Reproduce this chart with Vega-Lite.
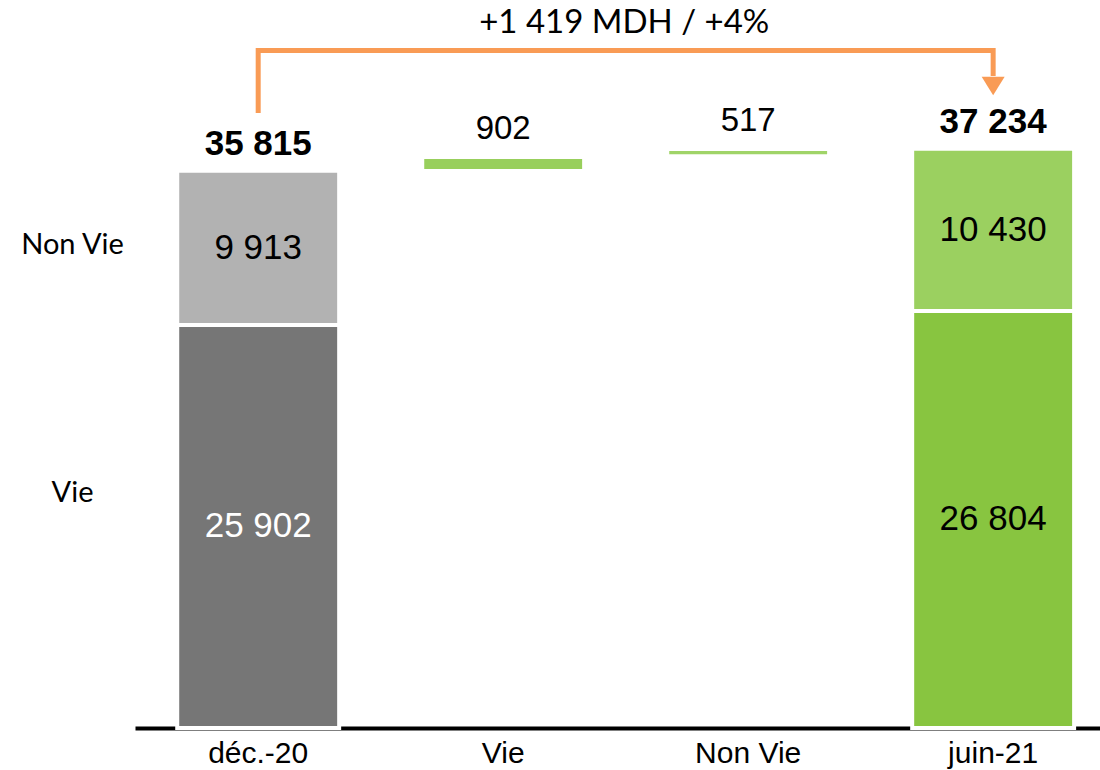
{
  "$schema": "https://vega.github.io/schema/vega-lite/v6.json",
  "autosize": "none",
  "width": 965,
  "height": 688,
  "padding": {"left": 135, "right": 0, "top": 40, "bottom": 42},
  "background": "white",
  "config": {
    "view": {"stroke": null},
    "locale": {"number": {"decimal": ",", "thousands": " ", "grouping": [3], "currency": ["", ""]}}
  },
  "datasets": {
    "stack": [
      {"cat": "déc.-20", "seg": "Vie", "start": 0, "end": 25902, "value": 25902},
      {"cat": "déc.-20", "seg": "Non Vie", "start": 25902, "end": 35815, "value": 9913},
      {"cat": "juin-21", "seg": "Vie", "start": 0, "end": 26804, "value": 26804},
      {"cat": "juin-21", "seg": "Non Vie", "start": 26804, "end": 37234, "value": 10430}
    ],
    "totals": [
      {"cat": "déc.-20", "total": 35815},
      {"cat": "juin-21", "total": 37234}
    ],
    "floats": [
      {"cat": "Vie", "start": 35930, "end": 36570, "value": 902},
      {"cat": "Non Vie", "start": 36870, "end": 37080, "value": 517}
    ],
    "arrow": [
      {"cat": "déc.-20", "y": 39524, "o": 1},
      {"cat": "déc.-20", "y": 43540, "o": 2},
      {"cat": "juin-21", "y": 43540, "o": 3},
      {"cat": "juin-21", "y": 41900, "o": 4}
    ],
    "head": [
      {"cat": "juin-21", "y": 41260}
    ],
    "note": [
      {"text": "+1 419 MDH / +4%", "pos": 0.507, "y": 44666}
    ]
  },
  "resolve": {"scale": {"x": "independent"}},
  "layer": [
    {
      "encoding": {
        "x": {
          "field": "cat",
          "type": "nominal",
          "sort": ["déc.-20", "Vie", "Non Vie", "juin-21"],
          "scale": {"domain": ["déc.-20", "Vie", "Non Vie", "juin-21"], "paddingInner": 0.339, "paddingOuter": 0.139, "align": 0.62},
          "axis": {
            "title": null,
            "labelAngle": 0,
            "labelFont": "Liberation Sans",
            "labelFontSize": 30,
            "labelColor": "#000000",
            "labelPadding": 10,
            "domainColor": "#000000",
            "domainWidth": 4,
            "ticks": false,
            "grid": false
          }
        }
      },
      "layer": [
        {
          "data": {"name": "stack"},
          "mark": {"type": "bar", "stroke": "white", "strokeWidth": 4},
          "encoding": {
            "y": {
              "field": "start",
              "type": "quantitative",
              "scale": {"domain": [0, 44216], "nice": false, "zero": true},
              "axis": {
                "title": null,
                "values": [15103, 31105],
                "labelExpr": "datum.value > 20000 ? 'Non Vie' : 'Vie'",
                "labelFont": "Lato",
                "labelFontSize": 29,
                "labelColor": "#000000",
                "labelAlign": "center",
                "labelBaseline": "middle",
                "labelPadding": 63,
                "domain": false,
                "ticks": false,
                "grid": false
              }
            },
            "y2": {"field": "end"},
            "color": {
              "condition": [
                {"test": "datum.cat === 'déc.-20' && datum.seg === 'Vie'", "value": "#767676"},
                {"test": "datum.cat === 'déc.-20' && datum.seg === 'Non Vie'", "value": "#B2B2B2"},
                {"test": "datum.cat === 'juin-21' && datum.seg === 'Vie'", "value": "#88C540"}
              ],
              "value": "#9BD060"
            }
          }
        },
        {
          "data": {"name": "stack"},
          "transform": [{"calculate": "(datum.start + datum.end) / 2", "as": "mid"}],
          "mark": {"type": "text", "font": "Liberation Sans", "fontSize": 35, "baseline": "middle", "align": "center"},
          "encoding": {
            "y": {"field": "mid", "type": "quantitative"},
            "text": {"field": "value", "type": "quantitative", "format": ","},
            "color": {
              "condition": {"test": "datum.cat === 'déc.-20' && datum.seg === 'Vie'", "value": "#FFFFFF"},
              "value": "#000000"
            }
          }
        },
        {
          "data": {"name": "totals"},
          "mark": {"type": "text", "font": "Liberation Sans", "fontSize": 35, "fontWeight": "bold", "baseline": "alphabetic", "align": "center", "dy": -16, "color": "#000000"},
          "encoding": {
            "y": {"field": "total", "type": "quantitative"},
            "text": {"field": "total", "type": "quantitative", "format": ","}
          }
        },
        {
          "data": {"name": "floats"},
          "mark": {"type": "bar", "width": {"band": 0.975}},
          "encoding": {
            "y": {"field": "start", "type": "quantitative"},
            "y2": {"field": "end"},
            "color": {
              "condition": {"test": "datum.cat === 'Vie'", "value": "#98CF5C"},
              "value": "#A0D468"
            }
          }
        },
        {
          "data": {"name": "floats"},
          "mark": {"type": "text", "font": "Liberation Sans", "fontSize": 33, "baseline": "alphabetic", "align": "center", "dy": -20, "color": "#000000"},
          "encoding": {
            "y": {"field": "end", "type": "quantitative"},
            "text": {"field": "value", "type": "quantitative", "format": ","}
          }
        },
        {
          "data": {"name": "arrow"},
          "mark": {"type": "line", "color": "#F99B55", "strokeWidth": 5, "strokeJoin": "miter", "strokeCap": "butt"},
          "encoding": {
            "y": {"field": "y", "type": "quantitative"},
            "order": {"field": "o", "type": "quantitative"}
          }
        },
        {
          "data": {"name": "head"},
          "mark": {"type": "point", "shape": "M-1,-0.8L1,-0.8L0,0.8Z", "size": 529, "filled": true, "color": "#F99B55", "opacity": 1, "strokeWidth": 0},
          "encoding": {
            "y": {"field": "y", "type": "quantitative"}
          }
        }
      ]
    },
    {
      "data": {"name": "note"},
      "mark": {"type": "text", "font": "Lato", "fontSize": 33, "baseline": "alphabetic", "align": "center", "color": "#000000"},
      "encoding": {
        "x": {"field": "pos", "type": "quantitative", "scale": {"domain": [0, 1], "nice": false, "zero": false}, "axis": null},
        "y": {"field": "y", "type": "quantitative"},
        "text": {"field": "text", "type": "nominal"}
      }
    }
  ]
}
